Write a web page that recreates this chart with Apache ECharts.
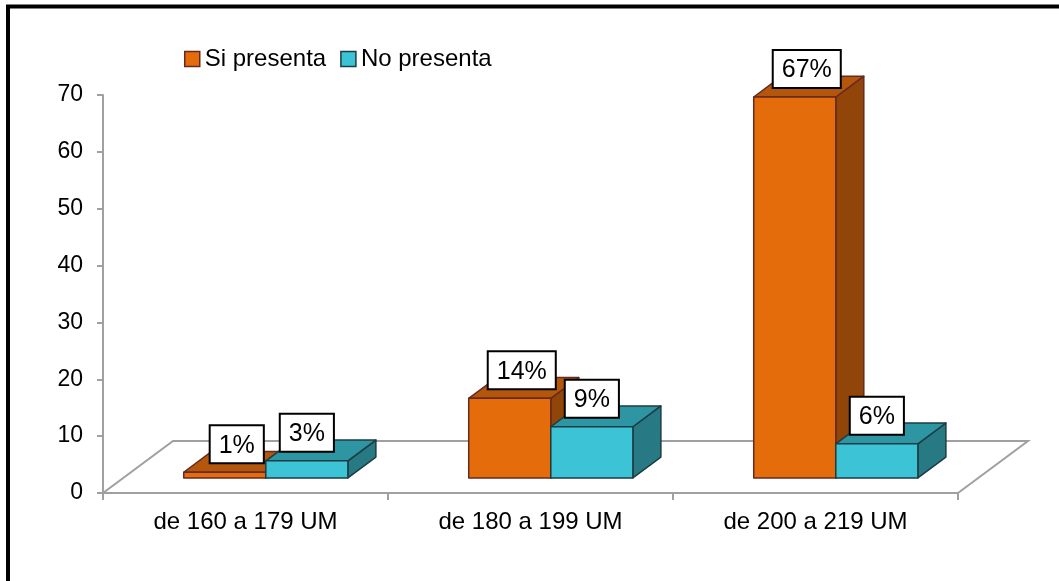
<!DOCTYPE html>
<html>
<head>
<meta charset="utf-8">
<script src="https://cdn.jsdelivr.net/npm/echarts@6/dist/echarts.min.js"></script>
<style>
  html, body { margin: 0; padding: 0; background: #fff; }
  #chart { width: 1059px; height: 581px; }
</style>
</head>
<body>
<div id="chart"></div>
<script>
// datos del gráfico
const categorias = ['de 160 a 179 UM', 'de 180 a 199 UM', 'de 200 a 219 UM']
const siPresenta = [1, 14, 67]
const noPresenta = [3, 9, 6]
const ticksY = [0, 70, 10] // min, max, intervalo

const FONT = "'Liberation Sans', Arial, sans-serif"
// profundidad del "piso" 3D (px)
const PISO_DX = 70
const PISO_DY = -52
const FRENTE = 0.29   // fracción de profundidad donde empieza la barra
const FONDO = 0.40    // profundidad de la barra
const ANCHO = 0.288   // ancho de cada barra respecto a la categoría

const colores = {
  si: { front: '#e46c0a', top: '#b4560b', side: '#924509', stroke: '#652a22' },
  no: { front: '#3dc3d6', top: '#2e95a3', side: '#277a84', stroke: '#1d3c43' }
}

/** dibuja una barra 3D (cara frontal, superior y lateral) */
function barra3D(lado, c) {
  return function (params, api) {
    const cat = api.value(0)
    const base = api.coord([cat, 0])
    const tope = api.coord([cat, api.value(1)])
    const banda = api.size([1, 0])[0]
    const w = banda * ANCHO
    const fx = PISO_DX * FRENTE, fy = PISO_DY * FRENTE
    const dx = PISO_DX * FONDO, dy = PISO_DY * FONDO
    const x0 = lado < 0 ? base[0] + fx - w : base[0] + fx
    const x1 = x0 + w
    const yb = base[1] + fy
    const yt = tope[1] + fy
    const borde = { stroke: c.stroke, lineWidth: 1.5, lineJoin: 'round' }
    return {
      type: 'group',
      children: [
        {
          type: 'polygon',
          shape: { points: [[x1, yt], [x1 + dx, yt + dy], [x1 + dx, yb + dy], [x1, yb]] },
          style: Object.assign({ fill: c.side }, borde)
        },
        {
          type: 'polygon',
          shape: { points: [[x0, yt], [x1, yt], [x1 + dx, yt + dy], [x0 + dx, yt + dy]] },
          style: Object.assign({ fill: c.top }, borde)
        },
        {
          type: 'rect',
          shape: { x: x0, y: yt, width: w, height: yb - yt },
          style: Object.assign({ fill: c.front }, borde)
        }
      ]
    }
  }
}

/** etiqueta con recuadro encima de la barra */
function etiqueta(lado, desplaza) {
  return function (params, api) {
    const cat = api.value(0)
    const base = api.coord([cat, 0])
    const tope = api.coord([cat, api.value(1)])
    const w = api.size([1, 0])[0] * ANCHO
    const fx = PISO_DX * FRENTE, fy = PISO_DY * FRENTE
    const cx = base[0] + fx + lado * w / 2 + desplaza
    return {
      type: 'text',
      x: cx,
      y: tope[1] + fy - 10,
      style: {
        text: api.value(1) + '%',
        fontFamily: FONT,
        fontSize: 25,
        fill: '#000',
        align: 'center',
        verticalAlign: 'bottom',
        backgroundColor: '#fff',
        borderColor: '#000',
        borderWidth: 2,
        padding: [7, 8, 4, 8]
      }
    }
  }
}

const chart = echarts.init(document.getElementById('chart'), null, { renderer: 'canvas' })

const option = {
  animation: false,
  backgroundColor: '#fff',
  textStyle: { fontFamily: FONT },
  graphic: [
    { type: 'line', shape: { x1: 6, y1: 6.5, x2: 1059, y2: 6.5 }, style: { stroke: '#000', lineWidth: 4 } },
    { type: 'line', shape: { x1: 8, y1: 5, x2: 8, y2: 581 }, style: { stroke: '#000', lineWidth: 4 } }
  ],
  legend: {
    left: 179,
    top: 42,
    itemWidth: 15,
    itemHeight: 15,
    itemGap: 14,
    textStyle: { fontFamily: FONT, fontSize: 24, color: '#000' },
    data: [
      { name: 'Si presenta', icon: 'rect', itemStyle: { color: colores.si.front, borderColor: colores.si.stroke, borderWidth: 1.5 } },
      { name: 'No presenta', icon: 'rect', itemStyle: { color: colores.no.front, borderColor: colores.no.stroke, borderWidth: 1.5 } }
    ]
  },
  grid: { left: 103, right: 101, top: 95, bottom: 88 },
  xAxis: {
    type: 'category',
    data: categorias,
    axisLine: { lineStyle: { color: '#a0a0a0', width: 2 } },
    axisTick: { show: true, length: 7, lineStyle: { color: '#a0a0a0', width: 2 } },
    axisLabel: { fontFamily: FONT, fontSize: 24, color: '#000', margin: 17 }
  },
  yAxis: {
    type: 'value',
    min: ticksY[0],
    max: ticksY[1],
    interval: ticksY[2],
    axisLine: { show: true, lineStyle: { color: '#a0a0a0', width: 2 } },
    axisTick: { show: true, length: 6, lineStyle: { color: '#a0a0a0', width: 2 } },
    splitLine: { show: false },
    axisLabel: { fontFamily: FONT, fontSize: 23, color: '#000', margin: 20 }
  },
  series: [
    {
      // piso en perspectiva
      type: 'custom',
      name: 'piso',
      silent: true,
      z: 1,
      data: [[0, 0]],
      renderItem: function (params) {
        const g = params.coordSys
        const yb = g.y + g.height
        return {
          type: 'polyline',
          shape: {
            points: [
              [g.x, yb],
              [g.x + PISO_DX, yb + PISO_DY],
              [g.x + g.width + PISO_DX, yb + PISO_DY],
              [g.x + g.width, yb]
            ]
          },
          style: { stroke: '#a0a0a0', lineWidth: 2, fill: null }
        }
      }
    },
    {
      type: 'custom',
      name: 'Si presenta',
      z: 2,
      itemStyle: { color: colores.si.front },
      encode: { x: 0, y: 1 },
      data: siPresenta.map((v, i) => [i, v]),
      renderItem: barra3D(-1, colores.si)
    },
    {
      type: 'custom',
      name: 'No presenta',
      z: 3,
      itemStyle: { color: colores.no.front },
      encode: { x: 0, y: 1 },
      data: noPresenta.map((v, i) => [i, v]),
      renderItem: barra3D(1, colores.no)
    },
    {
      type: 'custom',
      name: 'etiquetas si',
      z: 5,
      silent: true,
      encode: { x: 0, y: 1 },
      data: siPresenta.map((v, i) => [i, v]),
      renderItem: etiqueta(-1, 12)
    },
    {
      type: 'custom',
      name: 'etiquetas no',
      z: 5,
      silent: true,
      encode: { x: 0, y: 1 },
      data: noPresenta.map((v, i) => [i, v]),
      renderItem: etiqueta(1, 0)
    }
  ]
}

chart.setOption(option)
</script>
</body>
</html>
